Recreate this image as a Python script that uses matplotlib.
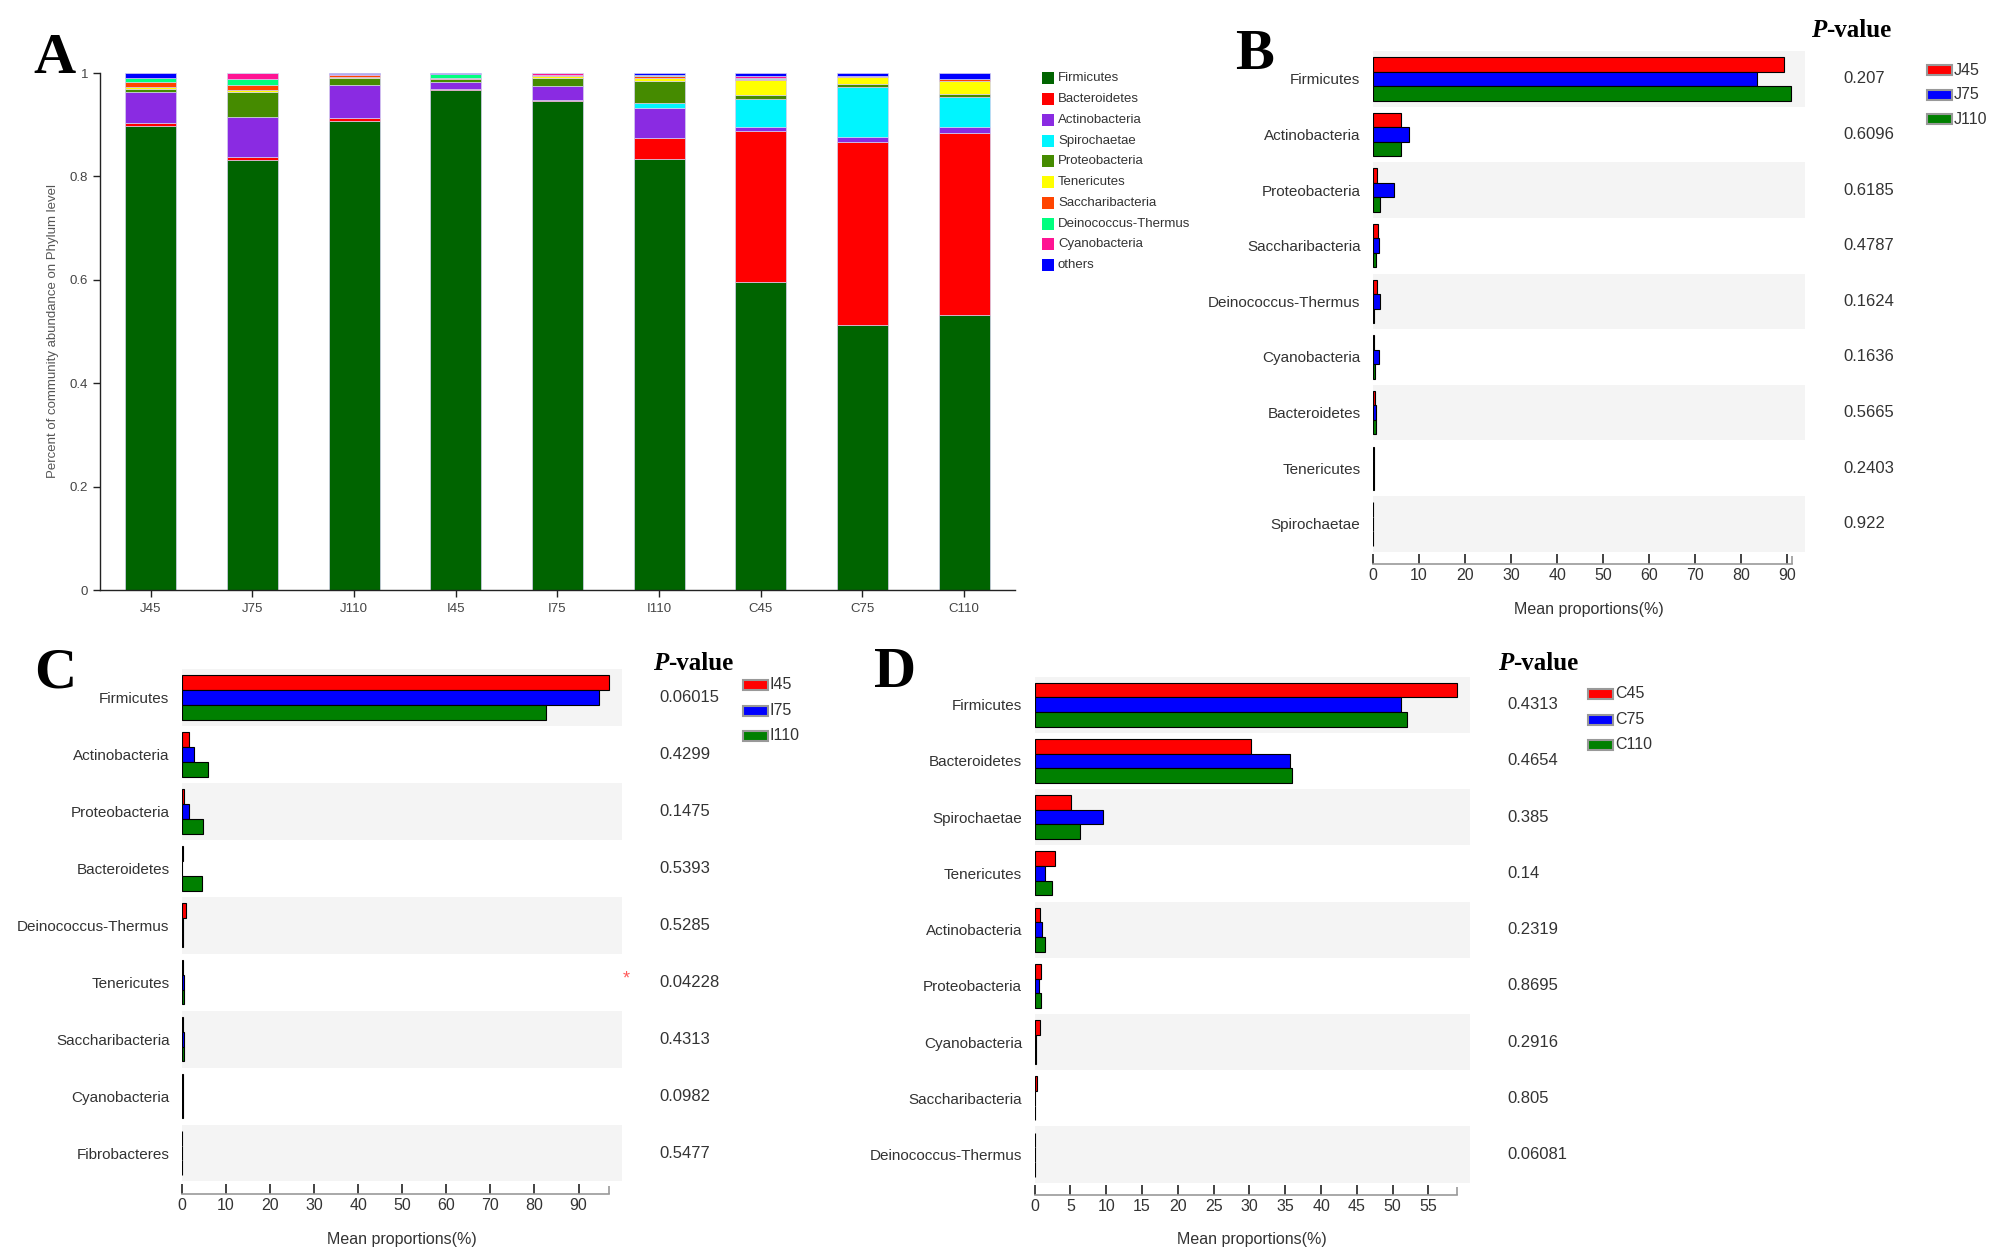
import matplotlib
matplotlib.use('Agg')
import matplotlib.pyplot as plt
from matplotlib.patches import Rectangle
from matplotlib.transforms import blended_transform_factory
import numpy as np

plt.rcParams['font.family'] = ['Liberation Sans', 'DejaVu Sans']

# ---------------- data ----------------
samples = ['J45', 'J75', 'J110', 'I45', 'I75', 'I110', 'C45', 'C75', 'C110']
phyla = ['Firmicutes', 'Bacteroidetes', 'Actinobacteria', 'Spirochaetae', 'Proteobacteria',
         'Tenericutes', 'Saccharibacteria', 'Deinococcus-Thermus', 'Cyanobacteria', 'others']
phyla_colors = ['#006400', '#FF0000', '#8A2BE2', '#00F5FF', '#458B00',
                '#FFFF00', '#FF4500', '#00FF7F', '#FF1493', '#0000FF']

firmicutes = [0.898, 0.832, 0.908, 0.967, 0.946, 0.834, 0.596, 0.512, 0.532]
bacteroidetes = [0.005, 0.005, 0.005, 0.002, 0.002, 0.041, 0.292, 0.355, 0.352]
actinobacteria = [0.060, 0.077, 0.063, 0.014, 0.026, 0.058, 0.008, 0.010, 0.012]
spirochaetae = [0.001, 0.000, 0.000, 0.000, 0.000, 0.009, 0.053, 0.095, 0.058]
proteobacteria = [0.006, 0.050, 0.015, 0.005, 0.017, 0.043, 0.008, 0.007, 0.006]
tenericutes = [0.002, 0.003, 0.001, 0.001, 0.003, 0.005, 0.029, 0.014, 0.025]
saccharibacteria = [0.010, 0.009, 0.004, 0.001, 0.002, 0.004, 0.003, 0.001, 0.003]
deinococcus = [0.008, 0.013, 0.001, 0.008, 0.001, 0.002, 0.001, 0.000, 0.000]
cyanobacteria = [0.001, 0.011, 0.001, 0.001, 0.003, 0.001, 0.004, 0.001, 0.001]
others = [0.009, 0.000, 0.002, 0.001, 0.000, 0.003, 0.006, 0.005, 0.011]
a_ticks = [0, 0.2, 0.4, 0.6, 0.8, 1]
a_ticklabels = ['0', '0.2', '0.4', '0.6', '0.8', '1']

b_cats = ['Firmicutes', 'Actinobacteria', 'Proteobacteria', 'Saccharibacteria',
          'Deinococcus-Thermus', 'Cyanobacteria', 'Bacteroidetes', 'Tenericutes', 'Spirochaetae']
b_groups = ['J45', 'J75', 'J110']
b_j45 = [89.3, 6.1, 0.85, 1.1, 0.9, 0.2, 0.4, 0.2, 0.1]
b_j75 = [83.5, 7.9, 4.6, 1.3, 1.45, 1.2, 0.6, 0.2, 0.1]
b_j110 = [90.7, 6.1, 1.45, 0.6, 0.15, 0.4, 0.65, 0.2, 0.1]
b_pvals = ['0.207', '0.6096', '0.6185', '0.4787', '0.1624', '0.1636', '0.5665', '0.2403', '0.922']

c_cats = ['Firmicutes', 'Actinobacteria', 'Proteobacteria', 'Bacteroidetes',
          'Deinococcus-Thermus', 'Tenericutes', 'Saccharibacteria', 'Cyanobacteria', 'Fibrobacteres']
c_groups = ['I45', 'I75', 'I110']
c_i45 = [97.0, 1.6, 0.5, 0.2, 0.8, 0.15, 0.15, 0.15, 0.08]
c_i75 = [94.7, 2.7, 1.7, 0.1, 0.15, 0.45, 0.4, 0.2, 0.08]
c_i110 = [82.6, 5.8, 4.8, 4.5, 0.15, 0.5, 0.4, 0.2, 0.08]
c_pvals = ['0.06015', '0.4299', '0.1475', '0.5393', '0.5285', '0.04228', '0.4313', '0.0982', '0.5477']
c_signif = [False, False, False, False, False, True, False, False, False]

d_cats = ['Firmicutes', 'Bacteroidetes', 'Spirochaetae', 'Tenericutes', 'Actinobacteria',
          'Proteobacteria', 'Cyanobacteria', 'Saccharibacteria', 'Deinococcus-Thermus']
d_groups = ['C45', 'C75', 'C110']
d_c45 = [59.0, 30.2, 5.1, 2.8, 0.7, 0.84, 0.7, 0.28, 0.05]
d_c75 = [51.1, 35.6, 9.5, 1.4, 1.07, 0.65, 0.14, 0.1, 0.05]
d_c110 = [52.0, 36.0, 6.3, 2.4, 1.44, 0.84, 0.14, 0.1, 0.05]
d_pvals = ['0.4313', '0.4654', '0.385', '0.14', '0.2319', '0.8695', '0.2916', '0.805', '0.06081']

group_colors = ['#FF0000', '#0000FF', '#008000']

# ---------------- figure ----------------
W, H = 2008, 1259
fig = plt.figure(figsize=(W / 100, H / 100), dpi=100)
fig.patch.set_facecolor('white')

TXT = '#333333'
SERIF = ['Liberation Serif', 'DejaVu Serif']


def px_axes(x0, y0, x1, y1):
    return fig.add_axes([x0 / W, 1 - y1 / H, (x1 - x0) / W, (y1 - y0) / H])


def fx(px):
    return px / W


def fy(py):
    return 1 - py / H


def panel_letter(letter, x, y):
    fig.text(fx(x), fy(y), letter, family=SERIF, fontweight='bold', fontsize=42,
             ha='center', va='center', color='black')


def pvalue_header(ax, x, y):
    t = fig.text(fx(x), fy(y), 'P', family=SERIF, fontweight='bold', fontstyle='italic',
                 fontsize=18, ha='left', va='center', color='black')
    ax.annotate('-value', xy=(1, 0), xycoords=t, family=SERIF, fontweight='bold',
                fontsize=18, ha='left', va='bottom', color='black',
                annotation_clip=False)


def box_legend(x, y, pitch, labels, colors, bw=25, bh=10):
    for i, (lab, col) in enumerate(zip(labels, colors)):
        yy = y + i * pitch
        fig.add_artist(Rectangle((fx(x), fy(yy + bh / 2)), bw / W, bh / H,
                                 transform=fig.transFigure, facecolor=col,
                                 edgecolor='#999999', linewidth=1.5))
        fig.text(fx(x + bw + 2), fy(yy), lab, fontsize=11.5, color=TXT,
                 ha='left', va='center')


# ---------------- Panel A ----------------
axA = px_axes(100, 73, 1015, 590)
xpos = np.arange(len(samples))
stack = [firmicutes, bacteroidetes, actinobacteria, spirochaetae, proteobacteria,
         tenericutes, saccharibacteria, deinococcus, cyanobacteria, others]
bottom = np.zeros(len(samples))
for vals, col in zip(stack, phyla_colors):
    v = np.array(vals)
    axA.bar(xpos, v, width=0.5, bottom=bottom, color=col, edgecolor='#d4d0ee',
            linewidth=0.5)
    bottom += v
axA.set_xlim(-0.5, 8.5)
axA.set_ylim(0, 1)
axA.set_xticks(xpos)
axA.set_xticklabels(samples, fontsize=9.5, color='#444444')
axA.set_yticks(a_ticks)
axA.set_yticklabels(a_ticklabels, fontsize=9.5, color='#444444')
for s in ['top', 'right']:
    axA.spines[s].set_visible(False)
for s in ['left', 'bottom']:
    axA.spines[s].set_color('#222222')
    axA.spines[s].set_linewidth(1)
axA.tick_params(axis='both', direction='out', length=5, width=1, colors='#222222',
                labelcolor='#444444')
axA.tick_params(axis='x', pad=4)
axA.set_ylabel('Percent of community abundance on Phylum level', fontsize=9.5,
               color='#555555', labelpad=8)
axA.set_facecolor('none')

# legend A
for i, (lab, col) in enumerate(zip(phyla, phyla_colors)):
    yy = 78.3 + i * 20.75
    fig.add_artist(Rectangle((fx(1042), fy(yy + 6)), 12 / W, 12 / H,
                             transform=fig.transFigure, facecolor=col,
                             edgecolor='none'))
    fig.text(fx(1058), fy(yy), lab, fontsize=9.5, color=TXT, ha='left', va='center')

panel_letter('A', 54, 59)


# ---------------- grouped panels ----------------
def group_panel(box, gap_px, cats, series, xmax, axis_end, ticks, pvals, p_x,
                signif=None, star_x=None):
    x0, y0, x1, y1 = box
    ax = px_axes(x0, y0, x1, y1)
    n = len(cats)
    pitch = (y1 - y0 - gap_px) / n
    gap = gap_px / pitch
    ax.set_xlim(0, xmax)
    ax.set_ylim(n - 0.5 + gap, -0.5)
    for i in range(0, n, 2):
        ax.axhspan(i - 0.5, i + 0.5, color='#f4f4f4', lw=0, zorder=0)
    y = np.arange(n)
    bh = 0.26
    for k, (vals, col) in enumerate(zip(series, group_colors)):
        ax.barh(y + (k - 1) * bh, vals, height=bh, color=col, edgecolor='black',
                linewidth=0.8, zorder=2)
    ax.set_yticks(y)
    ax.set_yticklabels(cats, fontsize=11, color=TXT)
    ax.tick_params(axis='y', length=0, pad=9)
    ax.set_xticks(ticks)
    ax.set_xticklabels([str(t) for t in ticks], fontsize=11.5, color=TXT)
    ax.tick_params(axis='x', direction='in', length=7, width=1.2, colors='#222222',
                   labelcolor=TXT, pad=3)
    for s in ['top', 'right', 'left']:
        ax.spines[s].set_visible(False)
    ax.spines['bottom'].set_bounds(0, axis_end)
    ax.spines['bottom'].set_color('#999999')
    ax.spines['bottom'].set_linewidth(1.2)
    ax.set_xticks([axis_end], minor=True)
    ax.tick_params(axis='x', which='minor', direction='in', length=6, width=1.2,
                   colors='#999999')
    ax.set_xlabel('Mean proportions(%)', fontsize=11.5, color=TXT, labelpad=13)
    tr = blended_transform_factory(fig.transFigure, ax.transData)
    for i, p in enumerate(pvals):
        ax.text(fx(p_x), i, p, transform=tr, fontsize=12, color=TXT,
                ha='left', va='center', clip_on=False)
    if signif is not None:
        for i, s in enumerate(signif):
            if s:
                ax.text(fx(star_x), i - 0.05, '*', transform=tr, fontsize=13,
                        color='#ff5a5a', ha='center', va='center', clip_on=False)
    return ax


axB = group_panel((1373, 51, 1805, 564.3), 12.6, b_cats, [b_j45, b_j75, b_j110],
                  93.85, 91.1, list(range(0, 91, 10)), b_pvals, 1843)
pvalue_header(axB, 1811, 30.7)
box_legend(1927, 70.4, 24.3, b_groups, group_colors)
panel_letter('B', 1255, 55)

axC = group_panel((182, 669, 621.7, 1194.3), 12.8, c_cats, [c_i45, c_i75, c_i110],
                  99.8, 97.0, list(range(0, 91, 10)), c_pvals, 659.5,
                  signif=c_signif, star_x=626)
pvalue_header(axC, 653, 663)
box_legend(743, 685, 25.5, c_groups, group_colors)
panel_letter('C', 55, 673)

axD = group_panel((1034.7, 676.6, 1470, 1195), 12.3, d_cats, [d_c45, d_c75, d_c110],
                  60.8, 59.05, list(range(0, 56, 5)), d_pvals, 1507)
pvalue_header(axD, 1498, 663)
box_legend(1588, 694, 25.5, d_groups, group_colors)
panel_letter('D', 895, 673)

fig.savefig('out.png', dpi=100, facecolor='white')
